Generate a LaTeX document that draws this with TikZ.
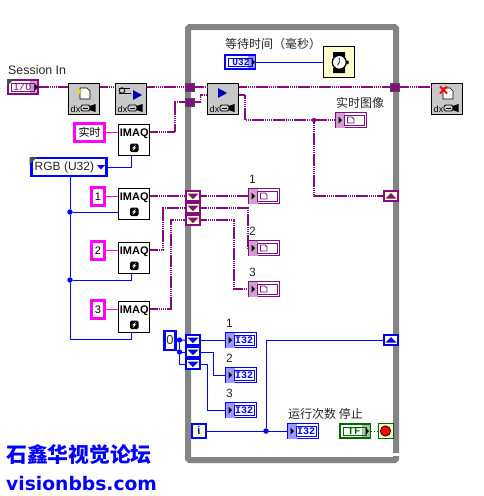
\documentclass[tikz,border=0pt]{standalone}
\usepackage{fontspec}
\setmainfont{Liberation Sans}
\newfontfamily\cjk{Noto Sans CJK SC}
\newfontfamily\widefont{DejaVu Sans}
\newfontfamily\monof{Liberation Mono}
\usepackage{xcolor}
\usetikzlibrary{arrows.meta,positioning,calc}

\definecolor{imgpurple}{HTML}{7F0F7F}
\definecolor{imgtint}{HTML}{CFA0CF}
\definecolor{numblue}{HTML}{0000FF}
\definecolor{numtint}{HTML}{9999FF}
\definecolor{strpink}{HTML}{FF00FF}
\definecolor{boolgreen}{HTML}{006600}
\definecolor{wallgray}{HTML}{848484}
\definecolor{iconfill}{HTML}{C8C8C8}
\definecolor{paleyellow}{HTML}{FFFFCC}

\newcommand{\fsz}[1]{\fontsize{#1}{#1}\selectfont}

% grey dx icon with the camera along its lower edge
\newcommand{\dxicon}[2]{%
  \node[dxbox] (#1) at (#2) {};
  \begin{scope}[shift={(#1)}]
    \node[dxlbl] (#1dx) at (-8.5,10.5) {dx};
    \draw[fill=iconfill, rounded corners=1.5pt, line width=.8pt] (-3,6) rectangle (6,12);
    \fill[black] (5.5,7) -- (11.5,5) -- (11.5,13) -- (5.5,11) -- cycle;
    \fill[black] (-1,8.5) rectangle (3.5,9.3);
  \end{scope}}
% page glyph, top of an icon
\newcommand{\pageglyph}{\draw[fill=white, line width=.6pt] (-4,-11) -- (3,-11) -- (6,-8) -- (6,0) -- (-4,0) -- cycle;}
% thin framed indicator, tint and arrow on its left
\newcommand{\indbox}[4]{%
  \node[indframe, draw=#3] (#1) at (#2) {};
  \begin{scope}[shift={(#1)}]
    \fill[#4] (-15.5,-7.5) rectangle (-6.5,7.5);
    \draw[#3, line width=.8pt] (-6.5,-5) rectangle (13,5);
    \fill[black] (-12.5,-3.5) -- (-9,0) -- (-12.5,3.5) -- cycle;
  \end{scope}}
\newcommand{\imgind}[2]{%
  \indbox{#1}{#2}{imgpurple}{imgtint}
  \begin{scope}[shift={(#1)}]
    \draw[imgpurple, line width=.8pt] (-3.5,-3) -- (1,-3) -- (3,-1) -- (3,3) -- (-3.5,3) -- cycle;
  \end{scope}}
\newcommand{\numind}[2]{%
  \indbox{#1}{#2}{numblue}{numtint}
  \node[numtxt] (#1t) at (#1) {I32};}
% indexing tunnel / shift register, triangle pointing down or up
\newcommand{\idxtun}[4]{%
  \node[idxbox, draw=#3] (#1) at (#2) {};
  \begin{scope}[shift={(#1)}]
    \fill[#3] (-5.5,-2.5) -- (5.5,-2.5) -- (0,#4) -- cycle;
  \end{scope}}
\newcommand{\regtun}[3]{%
  \node[idxbox, draw=#3] (#1) at (#2) {};
  \begin{scope}[shift={(#1)}]
    \fill[#3] (-5.5,2.5) -- (5.5,2.5) -- (0,-3) -- cycle;
  \end{scope}}
% IMAQ node with its small lightning box
\newcommand{\imaqnode}[2]{%
  \node[imaqbox] (#1) at (#2) {};
  \begin{scope}[shift={(#1)}]
    \node[imaqtxt] (#1t) at (0.2,-6) {IMAQ};
    \fill[black, rounded corners=1.5pt] (-4,3.5) rectangle (4.5,12);
    \fill[white] (2,4.7) -- (-2,8.3) -- (0,8.3) -- (-1.5,11) -- (2.5,7.3) -- (0.5,7.3) -- cycle;
  \end{scope}}

\begin{document}
\begin{tikzpicture}[
  x=1pt, y=-1pt,
  imgw/.style={imgpurple, line width=1.7pt, dash pattern=on 1.6pt off .5pt},
  strw/.style={strpink, line width=1.7pt, dash pattern=on 1.6pt off .5pt},
  numw/.style={numblue, line width=1pt},
  boolw/.style={boolgreen, line width=.9pt, dotted},
  dxbox/.style={draw=black, fill=iconfill, line width=.8pt, minimum size=31.5pt, inner sep=0pt},
  dxlbl/.style={inner sep=0pt, font=\fsz{9}},
  imaqbox/.style={draw=black, fill=white, line width=.8pt, minimum size=31.5pt, inner sep=0pt},
  imaqtxt/.style={inner sep=0pt, font=\fsz{11}\bfseries},
  indframe/.style={fill=white, line width=.9pt, minimum width=31.5pt, minimum height=15.5pt, inner sep=0pt},
  numtxt/.style={inner sep=0pt, text=numblue, font=\fsz{10}\monof\bfseries, xshift=3pt},
  idxbox/.style={fill=paleyellow, line width=2pt, minimum width=14.5pt, minimum height=10.5pt, inner sep=0pt},
  tunnel/.style={fill=imgpurple, draw=black!70, line width=.5pt, minimum size=8.5pt, inner sep=0pt},
  strconst/.style={draw=strpink, fill=white, line width=2.8pt, inner sep=0pt, font=\fsz{11}},
  numconst/.style={draw=numblue, fill=white, line width=2.2pt, inner sep=0pt},
  jdot/.style={circle, inner sep=0pt, minimum size=5.5pt},
  txtlbl/.style={inner sep=0pt, anchor=west, text=black!85},
  cjklbl/.style={txtlbl, font=\fsz{12}\cjk}
]

\useasboundingbox (0,0) rectangle (483,496);
\fill[white] (0,0) rectangle (483,496);

% ---- loop frame ----
\node[draw=wallgray, line width=6pt, rounded corners=1.5pt, minimum width=208pt, minimum height=433pt,
      inner sep=0pt] (loopframe) at (292,243.5) {};
\fill[white] (393,453) rectangle (400,455.5);

% ---- top row ----
\node[txtlbl, font=\fsz{12.4}] (sesslbl) at (8,70) {Session In};
\node[draw=imgpurple, fill=white, line width=2pt, minimum width=30pt, minimum height=14pt, inner sep=0pt] (sess) at (23,87) {};
\fill[imgtint] (30,81) rectangle (37,93);
\draw[imgpurple, line width=.7pt] (11,83) rectangle (34,91);
\node[inner sep=0pt, text=imgpurple, font=\fsz{10}\monof] (sesstxt) at (22.5,87) {I/O};
\fill[black] (34.5,83.5) -- (38,87) -- (34.5,90.5) -- cycle;
\fill[black!70] (7,79) -- (14,79) -- (7,86) -- cycle;

\dxicon{opn}{84,99}
\begin{scope}[shift={(opn)}]
  \pageglyph
  \fill[yellow!90!black] (-5,-11.5) -- (-4,-8.5) -- (-1,-8) -- (-4,-7) -- (-5,-4) -- (-6,-7) -- (-9,-8) -- (-6,-8.5) -- cycle;
\end{scope}
\dxicon{cfg}{131,99}
\begin{scope}[shift={(cfg)}]
  \draw[black, line width=.9pt] (-12,-11) -- (-1,-11) (-12,-6) -- (0,-6);
  \draw[black, line width=.8pt] (-9,-8.5) circle (2.8);
  \fill[blue!70!black] (2,-9) -- (11,-4) -- (2,1) -- cycle;
\end{scope}
\dxicon{acq}{223,99}
\begin{scope}[shift={(acq)}]
  \fill[blue!70!black] (-5,-11) -- (4,-6) -- (-5,-1) -- cycle;
\end{scope}
\dxicon{cls}{447,99}
\begin{scope}[shift={(cls)}]
  \pageglyph
  \draw[red, line width=1.8pt] (-7,-12.5) -- (0,-5.5) (0,-12.5) -- (-7,-5.5);
\end{scope}

\node[tunnel] (tuna) at (189.5,87) {};
\node[tunnel] (tunb) at (189.5,102) {};
\node[tunnel] (tunc) at (394.5,87) {};

\draw[imgw] (sess.east) -- (sess.east -| opn.west);
\draw[imgw] (opn.east |- sess) -- (cfg.west |- sess);
\draw[imgw] (cfg.east |- tuna) -- (tuna.west);
\draw[imgw] (tuna.east) -- (tuna.east -| acq.west);
\draw[imgw] (acq.east |- tuna) -- (tunc.west);
\draw[imgw] (tunc.east) -- (tunc.east -| cls.west);

% ---- wait ----
\node[cjklbl] (waitlbl) at (225,44) {等待时间（毫秒）};
\node[draw=numblue, fill=white, line width=2pt, minimum width=30pt, minimum height=14pt, inner sep=0pt] (waitctl) at (240,62) {};
\fill[numtint] (248,56) rectangle (255,68);
\draw[numblue, line width=.7pt] (228,58) rectangle (252,66);
\node[numtxt, font=\fsz{9.5}\monof\bfseries, xshift=-2pt] (waitt) at (240,62) {U32};
\fill[black] (251.5,58.5) -- (255,62) -- (251.5,65.5) -- cycle;
\node[draw=black, fill=paleyellow, line width=.8pt, minimum size=31.5pt, inner sep=0pt] (wait) at (339,62) {};
\fill[black] (333,52) rectangle (345,57) (333,68) rectangle (345,73) (346.5,60.5) rectangle (348.5,64);
\draw[black, fill=white, line width=1.3pt] (339.3,62.3) circle (7);
\draw[black, line width=.7pt] (339.3,62.5) -- (339.3,58) (339.3,62.5) -- (337.5,65);
\draw[numw] (waitctl.east) -- (wait.west);

% ---- live image ----
\imaqnode{imlive}{134,140}
\node[strconst, font=\fsz{11}\cjk, minimum width=30pt, minimum height=18pt] (cstlive) at (89.5,132.5) {实时};
\draw[strw] (cstlive.east) -- (cstlive.east -| imlive.west);
\draw[imgw] ([yshift=8pt]imlive.east) -- ++(25,0) |- (tunb.west);
\draw[imgw] (tunb.east) -- ++(6.5,0) |- ([yshift=4pt]acq.west);

\node[cjklbl] (livelbl) at (336,102.5) {实时图像};
\imgind{live}{351,120}
\regtun{srimg}{391,196}{imgpurple}
\node[jdot, minimum size=4.5pt, fill=imgpurple] (jlive) at (314,120) {};
\draw[imgw] ([yshift=4pt]acq.east) -- ++(6,0) |- (live.west);
\draw[imgw] (jlive) |- (srimg.west);

% ---- enum and IMAQ column ----
\node[draw=numblue, fill=white, line width=2.6pt, minimum width=75pt, minimum height=18pt, inner sep=0pt] (enum) at (69,167) {};
\fill[black!70] (29.5,157) -- (37,157) -- (29.5,164.5) -- cycle;
\node[txtlbl, font=\fsz{12}] (enumtxt) at (34.5,167) {RGB (U32)};
\fill[numblue] (97,165) -- (105,165) -- (101,169.5) -- cycle;

\imaqnode{imqa}{134,204}
\imaqnode{imqb}{134,258}
\imaqnode{imqc}{134,317}
\node[strconst, minimum width=13pt, minimum height=18pt] (csta) at (98,196.5) {1};
\node[strconst, minimum width=13pt, minimum height=18pt] (cstb) at (98,250.5) {2};
\node[strconst, minimum width=13pt, minimum height=18pt] (cstc) at (98,309.5) {3};
\draw[strw] (csta.east) -- (csta.east -| imqa.west);
\draw[strw] (cstb.east) -- (cstb.east -| imqb.west);
\draw[strw] (cstc.east) -- (cstc.east -| imqc.west);

\node[jdot, fill=numblue] (ja) at (70,212) {};
\node[jdot, fill=numblue] (jb) at (70,280) {};
\draw[numw] (enum.east) -| ([xshift=-3pt]imlive.south);
\draw[numw] (enum.south -| ja) -- (ja) -- (jb) -- ++(0,59) -| ([xshift=-3pt]imqc.south);
\draw[numw] (ja) -- (ja -| imqa.west);
\draw[numw] (jb) -| ([xshift=-3pt]imqb.south);

% ---- image outputs ----
\idxtun{idxa}{193,196}{imgpurple}{3}
\idxtun{idxb}{193,208}{imgpurple}{3}
\idxtun{idxc}{193,220}{imgpurple}{3}
\node[txtlbl, font=\fsz{12}] (lbla) at (249,179) {1};
\node[txtlbl, font=\fsz{12}] (lblb) at (249,231) {2};
\node[txtlbl, font=\fsz{12}] (lblc) at (249,272) {3};
\imgind{imga}{264,196}
\imgind{imgb}{264,248}
\imgind{imgc}{264,289}
\draw[imgw] ([yshift=8pt]imqa.east) -- (idxa.west);
\draw[imgw] ([yshift=8pt]imqb.east) -- ++(13,0) |- (idxb.west);
\draw[imgw] ([yshift=8pt]imqc.east) -- ++(21,0) |- (idxc.west);
\draw[imgw] (idxa.east) -- (idxa.east -| imga.west);
\draw[imgw] (idxb.east) -- (idxb.east -| imgb.west) -- (imgb.west);
\draw[imgw] (idxc.east) -- ++(33,0) |- (imgc.west);

% ---- counters ----
\node[numconst, font=\fsz{13}, text=black!80, minimum width=11pt, minimum height=18.5pt] (zero) at (170,340.5) {0};
\idxtun{nida}{193,340}{numblue}{3}
\idxtun{nidb}{193,352}{numblue}{3}
\idxtun{nidc}{193,364}{numblue}{3}
\node[jdot, fill=numblue] (jza) at (179.5,340) {};
\node[jdot, fill=numblue] (jzb) at (179.5,352) {};
\draw[numw] (zero.east) -- (nida.west);
\draw[numw] (jza) -- (jzb) |- (nidc.west);
\draw[numw] (jzb) -- (nidb.west);
\node[txtlbl, font=\fsz{12}] (lbld) at (226,323) {1};
\node[txtlbl, font=\fsz{12}] (lble) at (226,358) {2};
\node[txtlbl, font=\fsz{12}] (lblf) at (226,393) {3};
\numind{cnta}{241,340}
\numind{cntb}{241,375}
\numind{cntc}{241,410}
\draw[numw] (nida.east) -- (nida.east -| cnta.west);
\draw[numw] (nidb.east) -- ++(12,0) |- (cntb.west);
\draw[numw] (nidc.east) -- ++(6,0) |- (cntc.west);

% ---- iteration and stop ----
\node[draw=numblue, fill=paleyellow, line width=2pt, minimum size=14pt, inner sep=0pt, text=numblue, font=\fsz{11}\bfseries] (iter) at (199,431) {i};
\node[cjklbl] (runlbl) at (288,413.5) {运行次数 停止};
\numind{runs}{303,431}
\regtun{srcnt}{391,340}{numblue}
\node[jdot, fill=numblue] (jrun) at (266,431) {};
\draw[numw] (iter.east) -- (runs.west);
\draw[numw] (jrun) |- (srcnt.west);

\node[draw=boolgreen, fill=white, line width=2pt, minimum width=30pt, minimum height=14pt, inner sep=0pt] (tfc) at (355,431) {};
\fill[green!25!gray!60] (362,425) rectangle (369.5,437);
\draw[boolgreen, line width=.7pt] (343,427) rectangle (366,435);
\node[inner sep=0pt, text=boolgreen, font=\fsz{10.5}\monof\bfseries] (tft) at (354,431) {TF};
\fill[black] (365.5,427.5) -- (369,431) -- (365.5,434.5) -- cycle;
\node[draw=boolgreen, fill=paleyellow, line width=.9pt, minimum size=15pt, inner sep=0pt] (stopb) at (385.5,431) {};
\draw[black, fill=red, line width=.7pt] (385.5,431) circle (5.2);
\draw[boolw] (tfc.east) -- (stopb.west);

% ---- watermark ----
\node[inner sep=0pt, anchor=west, text=numblue, font=\fsz{20.8}\cjk\bfseries] (wma) at (6,454) {石鑫华视觉论坛};
\node[inner sep=0pt, anchor=west, text=numblue, font=\fsz{18.7}\widefont\bfseries] (wmb) at (6,484) {visionbbs.com};

\end{tikzpicture}
\end{document}
